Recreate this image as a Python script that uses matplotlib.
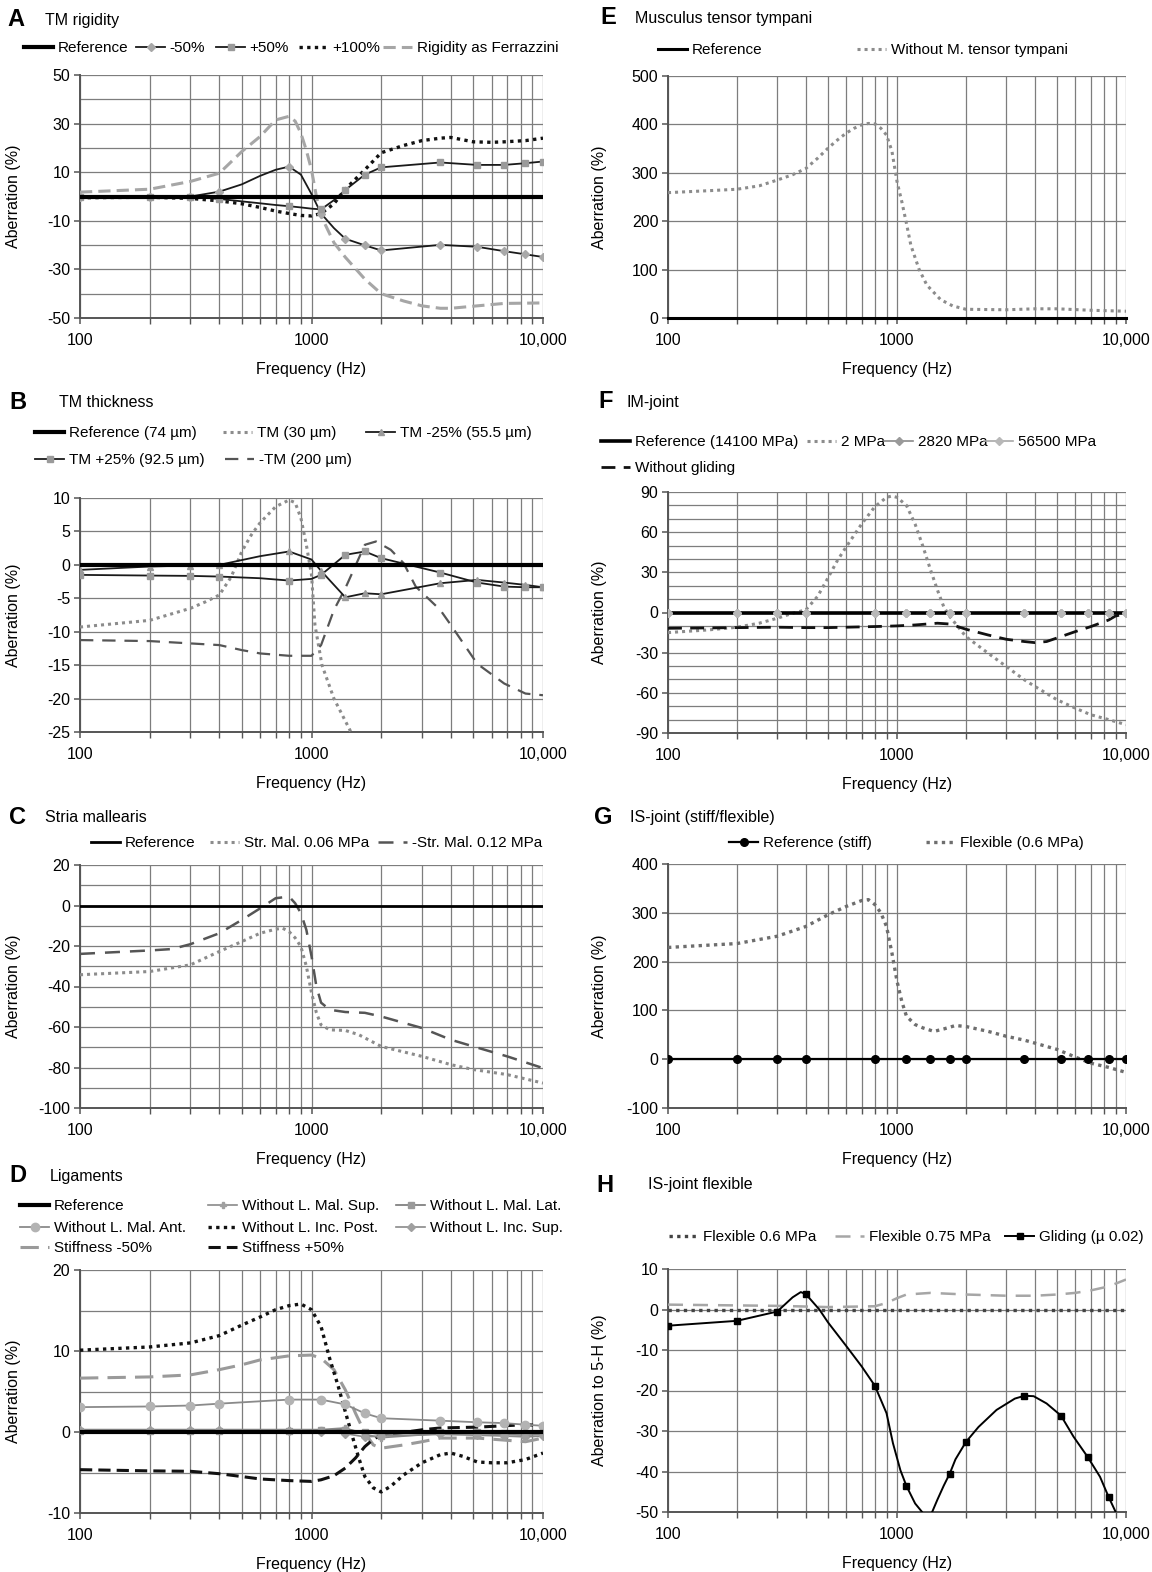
import matplotlib
matplotlib.use('Agg')
import matplotlib.pyplot as plt
from matplotlib.lines import Line2D
from matplotlib.ticker import FixedLocator, FixedFormatter, NullFormatter

plt.rcParams['font.family'] = ['Liberation Sans', 'DejaVu Sans']
plt.rcParams['font.size'] = 11

W, H = 1152, 1572
FS_TICK = 11.5
FS_LEG = 11
FS_TITLE = 11.5
GRID = '#7d7d7d'

# ---------------- data ----------------
X_MAJOR = [100, 1000, 10000]
X_LABELS = ['100', '1000', '10,000']
X_MINOR = [200, 300, 400, 500, 600, 700, 800, 900, 2000, 3000, 4000, 5000, 6000, 7000, 8000, 9000]
FREQ_MARK = [100, 200, 300, 400, 800, 1100, 1400, 1700, 2000, 3600, 5200, 6800, 8400, 10000]
FREQ_ENDS = [100, 10000]
ZERO_ENDS = [0, 0]
ZERO_MARK = [0, 0, 0, 0, 0, 0, 0, 0, 0, 0, 0, 0, 0, 0]

# A  TM rigidity
A_f = [100, 200, 300, 400, 500, 600, 700, 800, 900, 1000, 1100, 1250, 1400, 1700, 2000, 3600, 5200, 6800, 8400, 10000]
A_m50 = [-0.3, 0, 0, 2, 5, 8.5, 11, 12.3, 9, 1, -7, -13, -17.4, -20.1, -22.2, -19.9, -20.7, -22.5, -23.8, -24.9]
A_p50 = [-0.3, 0, 0, -1, -2, -2.8, -3.5, -4, -4.5, -5, -5.3, -1.5, 2.7, 9, 12, 14, 13, 13, 13.7, 14.4]
A_p100_f = [100, 200, 300, 400, 500, 600, 700, 800, 900, 1000, 1100, 1250, 1400, 1700, 2000, 2500, 3000, 3600, 4000, 5000, 6000, 6800, 8400, 10000]
A_p100 = [-0.5, -0.3, -0.8, -1.8, -3, -4.5, -6, -7, -7.8, -8, -7, -3, 3, 11, 18, 21, 23, 24, 24.3, 22.5, 22.3, 22.5, 23, 24]
A_fer_f = [100, 200, 300, 400, 500, 600, 700, 800, 850, 900, 950, 1000, 1050, 1100, 1250, 1400, 1700, 2000, 2500, 3000, 3600, 4000, 5200, 6800, 10000]
A_fer = [1.8, 3, 6.2, 9.6, 18.5, 24.7, 31.5, 33, 31, 26, 19, 11, 0, -8, -19, -25, -34, -40, -43, -45, -46, -46, -45, -44, -43.8]

# B  TM thickness
B_f = [100, 200, 300, 400, 600, 800, 1000, 1100, 1400, 1700, 2000, 3600, 5200, 6800, 8400, 10000]
B_m25 = [-0.75, -0.25, -0.1, 0, 1.3, 2, 0.8, -0.9, -4.85, -4.25, -4.4, -2.75, -2.25, -2.65, -3, -3.35]
B_p25 = [-1.5, -1.6, -1.65, -1.75, -2.0, -2.35, -2.1, -1.5, 1.5, 2, 1, -1.15, -2.65, -3.25, -3.35, -3.35]
B_tm30_f = [100, 200, 300, 350, 400, 450, 500, 550, 600, 700, 800, 850, 900, 950, 1000, 1035, 1110, 1250, 1480]
B_tm30 = [-9.3, -8.3, -6.5, -5.5, -4.5, -1.8, 2.0, 4.5, 6.3, 8.7, 9.7, 9.3, 7, 3, -1.5, -9, -15, -20, -25]
B_tm200_f = [100, 200, 300, 400, 500, 600, 800, 1000, 1100, 1250, 1400, 1550, 1700, 1900, 2200, 2500, 2820, 3600, 4000, 5200, 6800, 8400, 10000]
B_tm200 = [-11.25, -11.4, -11.75, -12, -12.75, -13.25, -13.6, -13.6, -12, -6.75, -3.5, -0.1, 3.0, 3.5, 2.25, 0.25, -3.25, -6.75, -9, -14.8, -17.75, -19.25, -19.5]

# C  Stria mallearis
C_s06_f = [100, 200, 300, 400, 500, 600, 700, 750, 800, 850, 900, 950, 1000, 1050, 1100, 1200, 1400, 1600, 2000, 3000, 4000, 5000, 7000, 10000]
C_s06 = [-34.2, -32.6, -29.3, -22.7, -17.8, -13.7, -11.7, -11.2, -12.9, -16, -20.3, -30, -43, -53, -59, -61.4, -61.7, -63.8, -69.6, -74.5, -78.6, -81, -83.5, -87.7]
C_s12_f = [100, 200, 250, 300, 400, 500, 600, 700, 800, 850, 900, 950, 1000, 1050, 1100, 1200, 1400, 1700, 2000, 3000, 4000, 5000, 7000, 10000]
C_s12 = [-23.9, -22.2, -21.5, -19.1, -13.7, -7.1, -1.4, 3.6, 4.4, 1.1, -3.8, -12, -25, -40, -48, -51.5, -52.6, -53, -54.8, -60.5, -66.3, -69.6, -74.5, -80.3]

# D  Ligaments
D_mal_sup = [0.3, 0.3, 0.3, 0.3, 0.3, 0.3, 0.5, -0.3, -0.7, -0.2, -0.2, -0.3, -0.4, -0.3]
D_mal_lat = [0.1, 0.1, 0.1, 0.1, 0.1, 0.2, 0.3, 0, -0.3, 0, 0, -0.1, -0.2, -0.1]
D_mal_ant = [3.07, 3.15, 3.27, 3.5, 4, 4, 3.4, 2.3, 1.7, 1.4, 1.2, 1.1, 0.9, 0.77]
D_inc_sup = [0.2, 0.2, 0.2, 0.2, 0.1, 0, -0.2, -0.6, -0.5, -0.3, -0.4, -0.5, -0.6, -0.5]
D_post_f = [100, 200, 300, 400, 500, 600, 700, 800, 900, 1000, 1100, 1200, 1300, 1400, 1500, 1600, 1700, 1850, 2000, 2200, 2500, 3000, 3600, 4000, 4500, 5200, 6000, 7000, 8400, 10000]
D_post = [10.1, 10.5, 11, 11.9, 13.2, 14.2, 15.1, 15.6, 15.8, 15.1, 13, 9, 5.8, 2.5, -0.5, -3.2, -5.5, -6.9, -7.4, -6.7, -5.3, -3.8, -2.8, -2.6, -3, -3.7, -3.8, -3.8, -3.4, -2.6]
D_stf_f = [100, 200, 300, 400, 500, 600, 800, 1000, 1100, 1250, 1400, 1550, 1700, 1850, 2000, 2500, 3000, 3600, 5200, 6800, 8400, 10000]
D_stf_m50 = [6.65, 6.8, 7.05, 7.7, 8.3, 8.9, 9.4, 9.5, 9.1, 7.7, 5.2, 2.3, -0.1, -1.6, -2, -1.6, -1.2, -0.75, -0.75, -1, -1.2, -0.75]
D_stf_p50 = [-4.65, -4.8, -4.85, -5.15, -5.5, -5.8, -6, -6.1, -5.9, -5.4, -4.45, -3.2, -1.8, -0.9, -0.35, -0.05, 0.27, 0.5, 0.6, 0.77, 0.9, 0.8]

# E  Musculus tensor tympani
E_f = [100, 150, 200, 250, 300, 350, 400, 450, 500, 550, 600, 650, 700, 750, 800, 850, 900, 950, 1000, 1050, 1100, 1150, 1250, 1350, 1550, 1750, 2000, 3000, 4000, 5000, 7000, 10000]
E_wo = [259, 263, 266, 273, 285, 296, 309, 330, 351, 368, 382, 392, 399, 402, 401, 392, 378, 345, 282, 240, 195, 150, 100, 68, 38, 25, 18, 17, 19, 19, 16, 14]

# F  IM-joint
F_2_f = [100, 150, 200, 250, 300, 350, 400, 450, 500, 550, 600, 700, 800, 900, 950, 1000, 1100, 1200, 1300, 1400, 1500, 1600, 1700, 2000, 2500, 3000, 3600, 4000, 5000, 6000, 7000, 8400, 10000]
F_2 = [-15, -13, -11, -8, -4.3, -0.6, 2, 12, 26, 39, 49, 66, 79, 86, 87, 86, 80, 66, 49, 32, 17, 4.3, -3, -18, -30.4, -40.3, -50.3, -55.2, -65.2, -71.4, -76.3, -80, -83.8]
F_wg_f = [100, 200, 300, 400, 500, 800, 1000, 1200, 1500, 1700, 2000, 2500, 3000, 3600, 4000, 4500, 5200, 6000, 7000, 8400, 9000, 10000]
F_wg = [-11.8, -11.3, -11, -11.3, -11.3, -10.5, -10, -9.3, -8, -8.6, -12.5, -16.8, -20, -21.7, -22.5, -21.7, -18, -14.3, -10.6, -5.6, -2.6, -1.1]

# G  IS-joint (stiff/flexible)
G_f = [100, 200, 300, 400, 500, 600, 700, 750, 800, 850, 900, 950, 1000, 1050, 1100, 1200, 1300, 1450, 1600, 1800, 2000, 2500, 3000, 3600, 4000, 5000, 6000, 7000, 8400, 10000]
G_flex = [229, 237, 252, 272, 296, 313, 325, 327, 317, 300, 272, 218, 160, 118, 88, 71, 64, 57, 62, 69, 67, 57, 47, 39, 33, 20, 4.5, -8, -16.8, -27]

# H  IS-joint flexible
H_075_f = [100, 300, 500, 800, 900, 1000, 1100, 1400, 2000, 3000, 4000, 5000, 6000, 7000, 8400, 10000]
H_075 = [1.2, 0.9, 0.6, 0.8, 1.6, 2.8, 3.7, 4.1, 3.7, 3.4, 3.4, 3.7, 4.1, 4.7, 5.7, 7.4]
H_gl_f = [100, 200, 300, 350, 380, 400, 458, 500, 600, 700, 800, 900, 960, 1035, 1100, 1200, 1300, 1360, 1424, 1500, 1600, 1700, 1800, 2000, 2270, 2720, 3270, 3600, 3950, 4500, 5200, 5900, 6800, 7700, 8400, 9100, 10000]
H_gl = [-4.0, -2.8, -0.5, 3.0, 4.3, 3.8, 0, -3.2, -9, -14, -18.8, -25.6, -33, -39.7, -43.6, -47.9, -50.3, -51, -50, -47, -43.5, -40.5, -37, -32.7, -29, -24.8, -22, -21.3, -21.4, -23.2, -26.2, -31.4, -36.4, -41.3, -46.3, -50.5, -55]
H_GL_MARK = [100, 200, 300, 400, 800, 1100, 1700, 2000, 3600, 5200, 6800, 8400]

# ---------------- figure ----------------
fig = plt.figure(figsize=(W / 100, H / 100), dpi=100)
LX0, LX1 = 80, 543
RX0, RX1 = 668, 1126


def make_ax(x0, x1, ytop, ybot):
    return fig.add_axes([x0 / W, 1 - ybot / H, (x1 - x0) / W, (ybot - ytop) / H])


def setup(ax, ylim, major, minor, x0, x1, ylabel='Aberration (%)', ylabel_x=21):
    ax.set_xscale('log')
    ax.set_xlim(100, 10000)
    ax.set_ylim(*ylim)
    ax.xaxis.set_major_locator(FixedLocator(X_MAJOR))
    ax.xaxis.set_major_formatter(FixedFormatter(X_LABELS))
    ax.xaxis.set_minor_locator(FixedLocator(X_MINOR))
    ax.xaxis.set_minor_formatter(NullFormatter())
    ax.yaxis.set_major_locator(FixedLocator(major))
    ax.yaxis.set_major_formatter(FixedFormatter([str(t) for t in major]))
    ax.yaxis.set_minor_locator(FixedLocator(minor))
    ax.grid(True, which='both', color=GRID, lw=0.9)
    ax.set_axisbelow(True)
    ax.spines[['top', 'right']].set_visible(False)
    for s in ('left', 'bottom'):
        ax.spines[s].set_color('#555555')
        ax.spines[s].set_linewidth(1.4)
    ax.tick_params(axis='both', which='major', length=4, width=1.1, color='#555555', labelsize=FS_TICK)
    ax.tick_params(axis='x', which='major', pad=7)
    ax.tick_params(axis='y', which='major', pad=3)
    ax.tick_params(axis='x', which='minor', length=4, width=1, color='#555555')
    ax.tick_params(axis='y', which='minor', length=0)
    ax.set_xlabel('Frequency (Hz)', fontsize=FS_TICK, labelpad=10)
    ax.set_ylabel(ylabel, fontsize=FS_TICK)
    ax.yaxis.set_label_coords((ylabel_x - x0) / (x1 - x0), 0.5)


def curve(ax, f, v, color='k', lw=1.3, ls='-', marker=None, ms=4.5, mfc=None,
          mark_at=FREQ_MARK, zorder=3, dash=None):
    me = [i for i, x in enumerate(f) if x in mark_at] if marker else None
    fc = mfc if mfc else color
    line, = ax.plot(f, v, color=color, lw=lw, ls=ls, marker=marker, markevery=me,
                    ms=ms, mfc=fc, mec=fc, zorder=zorder)
    if dash is not None:
        line.set_dashes(dash)
    return line


def leg(handle, label, x, y):
    fig.legend([handle], [label], loc='center left', bbox_to_anchor=(x / W, 1 - y / H),
               frameon=False, fontsize=FS_LEG, handlelength=1.9, handletextpad=0.3,
               borderpad=0, borderaxespad=0)


def title(letter, text, xl, xt, y):
    fig.text(xl / W, 1 - y / H, letter, fontsize=17, fontweight='bold', ha='left', va='center')
    fig.text(xt / W, 1 - y / H, text, fontsize=FS_TITLE, ha='left', va='center')


DOT = (1, 1.3)

# ---- A ----
ax = make_ax(LX0, LX1, 75, 318)
setup(ax, (-50, 50), [-50, -30, -10, 10, 30, 50], [-40, -20, 0, 20, 40], LX0, LX1)
hA5 = curve(ax, A_fer_f, A_fer, color='#a6a6a6', lw=2.2, dash=(4, 2))
hA4 = curve(ax, A_p100_f, A_p100, color='#111111', lw=2.4, dash=DOT)
hA2 = curve(ax, A_f, A_m50, color='#1a1a1a', lw=1.3, marker='D', ms=4, mfc='#a8a8a8')
hA3 = curve(ax, A_f, A_p50, color='#1a1a1a', lw=1.3, marker='s', ms=4.5, mfc='#9a9a9a')
hA1 = curve(ax, FREQ_ENDS, ZERO_ENDS, color='black', lw=3, zorder=4)
title('A', 'TM rigidity', 7, 45, 20)
leg(hA1, 'Reference', 24, 48)
leg(hA2, '-50%', 136, 48)
leg(hA3, '+50%', 216, 48)
leg(hA4, '+100%', 299, 48)
leg(hA5, 'Rigidity as Ferrazzini', 383, 48)

# ---- B ----
ax = make_ax(LX0, LX1, 498, 732)
setup(ax, (-25, 10), [-25, -20, -15, -10, -5, 0, 5, 10], [], LX0, LX1)
hB2 = curve(ax, B_tm30_f, B_tm30, color='#8c8c8c', lw=2.2, dash=DOT)
hB5 = curve(ax, B_tm200_f, B_tm200, color='#555555', lw=1.6, dash=(6, 4))
hB3 = curve(ax, B_f, B_m25, color='#1a1a1a', lw=1.3, marker='^', ms=4.5, mfc='#9a9a9a')
hB4 = curve(ax, B_f, B_p25, color='#1a1a1a', lw=1.3, marker='s', ms=4.5, mfc='#9a9a9a')
hB1 = curve(ax, FREQ_ENDS, ZERO_ENDS, color='black', lw=3, zorder=4)
title('B', 'TM thickness', 9, 59, 403)
leg(hB1, 'Reference (74 µm)', 35, 433)
leg(hB2, 'TM (30 µm)', 223, 433)
leg(hB3, 'TM -25% (55.5 µm)', 366, 433)
leg(hB4, 'TM +25% (92.5 µm)', 35, 460)
leg(hB5, '-TM (200 µm)', 225, 460)

# ---- C ----
ax = make_ax(LX0, LX1, 865, 1108)
setup(ax, (-100, 20), [-100, -80, -60, -40, -20, 0, 20], [-90, -70, -50, -30, -10, 10], LX0, LX1)
hC2 = curve(ax, C_s06_f, C_s06, color='#8c8c8c', lw=2.2, dash=DOT)
hC3 = curve(ax, C_s12_f, C_s12, color='#555555', lw=1.8, dash=(6, 4))
hC1 = curve(ax, FREQ_ENDS, ZERO_ENDS, color='black', lw=2, zorder=4)
title('C', 'Stria mallearis', 9, 45, 818)
leg(hC1, 'Reference', 91, 843)
leg(hC2, 'Str. Mal. 0.06 MPa', 210, 843)
leg(hC3, '-Str. Mal. 0.12 MPa', 378, 843)

# ---- D ----
ax = make_ax(LX0, LX1, 1270, 1513)
setup(ax, (-10, 20), [-10, 0, 10, 20], [-5, 5, 15], LX0, LX1)
hD7 = curve(ax, D_stf_f, D_stf_m50, color='#9a9a9a', lw=2.2, dash=(6, 3))
hD8 = curve(ax, D_stf_f, D_stf_p50, color='#111111', lw=2.2, dash=(4, 2))
hD5 = curve(ax, D_post_f, D_post, color='#111111', lw=2.4, dash=DOT)
hD4 = curve(ax, FREQ_MARK, D_mal_ant, color='#8a8a8a', lw=1.3, marker='o', ms=6, mfc='#b3b3b3')
hD2 = curve(ax, FREQ_MARK, D_mal_sup, color='#8a8a8a', lw=1.2, marker='P', ms=5, mfc='#a0a0a0')
hD3 = curve(ax, FREQ_MARK, D_mal_lat, color='#777777', lw=1.2, marker='s', ms=4, mfc='#9a9a9a')
hD6 = curve(ax, FREQ_MARK, D_inc_sup, color='#8a8a8a', lw=1.2, marker='D', ms=4, mfc='#a0a0a0')
hD1 = curve(ax, FREQ_ENDS, ZERO_ENDS, color='black', lw=3, zorder=4)
title('D', 'Ligaments', 9, 50, 1176)
leg(hD1, 'Reference', 20, 1206)
leg(hD2, 'Without L. Mal. Sup.', 208, 1206)
leg(hD3, 'Without L. Mal. Lat.', 396, 1206)
leg(hD4, 'Without L. Mal. Ant.', 20, 1228)
leg(hD5, 'Without L. Inc. Post.', 208, 1228)
leg(hD6, 'Without L. Inc. Sup.', 396, 1228)
leg(hD7, 'Stiffness -50%', 20, 1248)
leg(hD8, 'Stiffness +50%', 208, 1248)

# ---- E ----
ax = make_ax(RX0, RX1, 76, 318)
setup(ax, (0, 500), [0, 100, 200, 300, 400, 500], [], RX0, RX1, ylabel_x=607)
hE2 = curve(ax, E_f, E_wo, color='#8c8c8c', lw=2.2, dash=DOT)
hE1 = curve(ax, FREQ_ENDS, ZERO_ENDS, color='black', lw=2.2, zorder=4)
hE1.set_clip_on(False)
title('E', 'Musculus tensor tympani', 600, 635, 18)
leg(hE1, 'Reference', 658, 50)
leg(hE2, 'Without M. tensor tympani', 857, 50)

# ---- F ----
ax = make_ax(RX0, RX1, 492, 733)
F_minor = [-80, -70, -50, -40, -20, -10, 10, 20, 40, 50, 70, 80]
setup(ax, (-90, 90), [-90, -60, -30, 0, 30, 60, 90], F_minor, RX0, RX1, ylabel_x=607)
hF2 = curve(ax, F_2_f, F_2, color='#8c8c8c', lw=2.2, dash=DOT)
hF5 = curve(ax, F_wg_f, F_wg, color='#111111', lw=2, dash=(5, 3))
hF1 = curve(ax, FREQ_ENDS, ZERO_ENDS, color='black', lw=2.6, zorder=4)
curve(ax, FREQ_MARK, ZERO_MARK, color='#8a8a8a', lw=0, marker='D', ms=4, mfc='#9a9a9a', zorder=5)
curve(ax, FREQ_MARK, ZERO_MARK, color='#a8a8a8', lw=0, marker='D', ms=4, mfc='#b8b8b8', zorder=5)
hF3 = Line2D([], [], color='#8a8a8a', lw=1.2, marker='D', ms=4, mfc='#9a9a9a', mec='#9a9a9a')
hF4 = Line2D([], [], color='#a8a8a8', lw=1.2, marker='D', ms=4, mfc='#b8b8b8', mec='#b8b8b8')
title('F', 'IM-joint', 598, 626, 402)
leg(hF1, 'Reference (14100 MPa)', 601, 442)
leg(hF2, '2 MPa', 807, 442)
leg(hF3, '2820 MPa', 884, 442)
leg(hF4, '56500 MPa', 984, 442)
leg(hF5, 'Without gliding', 601, 468)

# ---- G ----
ax = make_ax(RX0, RX1, 864, 1108)
setup(ax, (-100, 400), [-100, 0, 100, 200, 300, 400], [], RX0, RX1, ylabel_x=607)
hG2 = curve(ax, G_f, G_flex, color='#6e6e6e', lw=2.4, dash=DOT)
hG1 = curve(ax, FREQ_MARK, ZERO_MARK, color='black', lw=1.6, marker='o', ms=5.5, zorder=4)
title('G', 'IS-joint (stiff/flexible)', 594, 630, 818)
leg(hG1, 'Reference (stiff)', 729, 843)
leg(hG2, 'Flexible (0.6 MPa)', 926, 843)

# ---- H ----
ax = make_ax(RX0, RX1, 1269, 1512)
setup(ax, (-50, 10), [-50, -40, -30, -20, -10, 0, 10], [], RX0, RX1,
      ylabel='Aberration to 5-H (%)', ylabel_x=607)
hH2 = curve(ax, H_075_f, H_075, color='#a6a6a6', lw=1.8, dash=(6, 4))
hH1 = curve(ax, FREQ_ENDS, ZERO_ENDS, color='#444444', lw=2.4, dash=DOT, zorder=4)
hH3 = curve(ax, H_gl_f, H_gl, color='black', lw=1.4, marker='s', ms=4.5, mark_at=H_GL_MARK, zorder=5)
title('H', 'IS-joint flexible', 596, 648, 1185)
leg(hH1, 'Flexible 0.6 MPa', 669, 1237)
leg(hH2, 'Flexible 0.75 MPa', 835, 1237)
leg(hH3, 'Gliding (µ 0.02)', 1005, 1237)

fig.savefig('out.png', dpi=100)
